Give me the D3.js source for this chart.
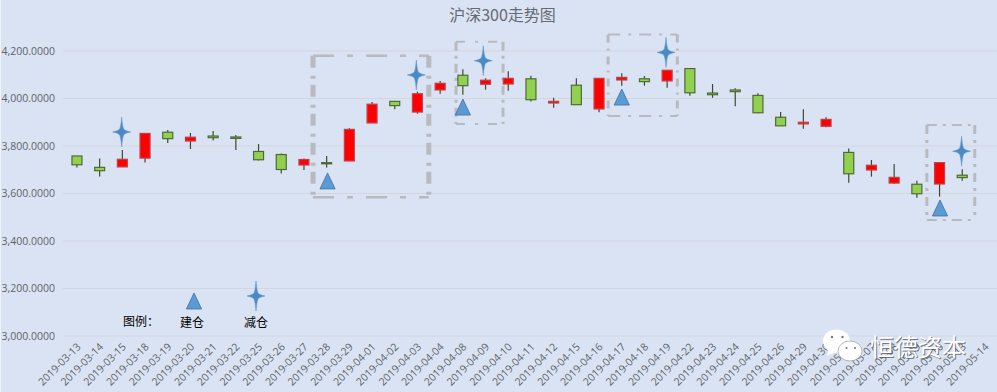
<!DOCTYPE html>
<html>
<head>
<meta charset="utf-8">
<script src="https://cdn.jsdelivr.net/npm/d3@7"></script>
<style>
  html, body { margin: 0; padding: 0; background: #dae3f3; overflow: hidden; }
  text { font-family: "Noto Sans CJK SC", "Noto Sans", sans-serif; }
</style>
</head>
<body>
<div id="vis"></div>
<script>
const categories = [
  "2019-03-13","2019-03-14","2019-03-15","2019-03-18","2019-03-19","2019-03-20","2019-03-21","2019-03-22",
  "2019-03-25","2019-03-26","2019-03-27","2019-03-28","2019-03-29","2019-04-01","2019-04-02","2019-04-03",
  "2019-04-04","2019-04-08","2019-04-09","2019-04-10","2019-04-11","2019-04-12","2019-04-15","2019-04-16",
  "2019-04-17","2019-04-18","2019-04-19","2019-04-22","2019-04-23","2019-04-24","2019-04-25","2019-04-26",
  "2019-04-29","2019-04-30","2019-05-06","2019-05-07","2019-05-08","2019-05-09","2019-05-10","2019-05-13",
  "2019-05-14"
];
// the last date has a label but no candle
const open = [3758,3710,3712,3749,3858,3821,3842,3838,3777,3764,3720,3730,3737,3897,3988,3943,4036,4098,4060,4061,4083,3981,4056,3956,4078,4083,4074,4126,4023,4036,4013,3921,3893,3883,3773,3699,3644,3639,3640,3677];
const close = [3721,3696,3744,3853,3831,3837,3835,3832,3742,3701,3743,3725,3870,3976,3970,4020,4064,4054,4077,4085,3995,3988,3974,4085,4089,4071,4119,4024,4016,4029,3940,3885,3900,3912,3683,3719,3668,3599,3730,3667];
const high = [3758,3747,3783,3853,3867,3855,3863,3846,3808,3768,3747,3758,3875,3985,3989,4029,4074,4123,4085,4115,4096,4003,4085,4085,4106,4095,4119,4126,4061,4043,4022,3943,3955,3921,3790,3741,3724,3654,3730,3702];
const low = [3710,3672,3712,3731,3813,3787,3823,3783,3739,3684,3699,3710,3737,3897,3955,3936,4020,4016,4037,4033,3987,3961,3974,3942,4054,4054,4045,4012,4003,3967,3938,3885,3873,3879,3645,3671,3641,3582,3587,3654];

const yTicks = [3000,3200,3400,3600,3800,4000,4200];

// markers were placed by hand on the original, so position is a category index
const buyPos = [11.04,17,24,38.02];
const buyValues = [3653,3964,4006,3539];
const sellPos = [1.97,14.95,17.9,25.95,38.97];
const sellValues = [3859,4099,4159,4194,3778];

// highlight boxes: position in category index, then value range
const boxFrom = [10.4,16.7,23.4,37.44];
const boxTo = [15.5,18.77,26.45,39.55];
const boxTop = [4180,4239,4269,3888];
const boxBottom = [3584,3893,3926,3488];
const boxDashH = ["21 13 6 13","9 10 3 10","12 8 3 8","10 6 3 6"];
const boxDashV = ["12 8 3 6","9 5 3 5","8 6 2 6","9 6 3 6"];
const boxWidthH = [2.5,2,2,2];
const boxWidthV = [5,3,3,3];

const width = 997;
const height = 392;

const svg = d3.select("#vis")
  .append("svg")
  .attr("width", width)
  .attr("height", height)
  .style("display", "block");

const x = d3.scaleBand()
  .domain(categories)
  .range([65.6, 996.3])
  .paddingInner(0.56)
  .paddingOuter(0.28);

const y = d3.scaleLinear()
  .domain([3000, 4200])
  .range([336, 51]);

const cx = d => x(d) + x.bandwidth() / 2;
const idx = i => x(categories[0]) + x.bandwidth() / 2 + i * x.step();

// pale strip down the left edge
svg.append("rect")
  .attr("width", 1)
  .attr("height", height)
  .attr("fill", "#eef2f9");

// grid
svg.append("g")
  .selectAll("line")
  .data(yTicks)
  .enter()
  .append("line")
  .attr("x1", 63)
  .attr("x2", 997)
  .attr("y1", d => y(d))
  .attr("y2", d => y(d))
  .attr("stroke", "#d3d6dd")
  .attr("stroke-width", 1);

// y axis labels
const yAxis = svg.append("g")
  .attr("transform", "translate(55,0)")
  .call(d3.axisLeft(y).tickValues(yTicks).tickSize(0).tickPadding(0).tickFormat(d3.format(",.4f")));
yAxis.select(".domain").remove();
yAxis.selectAll("text")
  .attr("fill", "#5f6368")
  .style("font-family", "'Open Sans', sans-serif")
  .style("font-size", "10.5px");

// x axis labels
const xAxis = svg.append("g")
  .attr("transform", "translate(0,340)")
  .call(d3.axisBottom(x).tickSize(0).tickPadding(0));
xAxis.select(".domain").remove();
xAxis.selectAll("text")
  .attr("fill", "#5f6368")
  .attr("text-anchor", "end")
  .attr("transform", "translate(0,3) rotate(-45)")
  .attr("dy", "0.6em")
  .style("font-family", "'Open Sans', sans-serif")
  .style("font-size", "10.5px");

// highlight boxes, sides drawn apart because the dashes differ
const boxes = svg.append("g")
  .attr("fill", "none")
  .attr("stroke", "#b8bac0");
boxFrom.forEach((from, i) => {
  const x0 = idx(from), x1 = idx(boxTo[i]);
  const y0 = y(boxTop[i]), y1 = y(boxBottom[i]);
  [y0, y1].forEach(py => {
    boxes.append("line")
      .attr("x1", x0).attr("x2", x1)
      .attr("y1", py).attr("y2", py)
      .attr("stroke-width", boxWidthH[i])
      .attr("stroke-dasharray", boxDashH[i]);
  });
  [x0, x1].forEach(px => {
    boxes.append("line")
      .attr("x1", px).attr("x2", px)
      .attr("y1", y0).attr("y2", y1)
      .attr("stroke-width", boxWidthV[i])
      .attr("stroke-dasharray", boxDashV[i]);
  });
});

// candles
const candles = svg.append("g")
  .selectAll("g")
  .data(open)
  .enter()
  .append("g");

candles.append("line")
  .attr("x1", (d, i) => cx(categories[i]))
  .attr("x2", (d, i) => cx(categories[i]))
  .attr("y1", (d, i) => y(high[i]))
  .attr("y2", (d, i) => y(low[i]))
  .attr("stroke", "#3c4a30")
  .attr("stroke-width", 1.2);

candles.append("rect")
  .attr("x", (d, i) => x(categories[i]))
  .attr("width", x.bandwidth())
  .attr("y", (d, i) => y(Math.max(d, close[i])))
  .attr("height", (d, i) => Math.abs(y(d) - y(close[i])))
  .attr("fill", (d, i) => close[i] >= d ? "#ff0000" : "#92d050")
  .attr("stroke", (d, i) => close[i] >= d ? "#c0404a" : "#4f6b35")
  .attr("stroke-width", 1.2);

// markers
const triangle = {
  draw(ctx) {
    ctx.moveTo(0, -8);
    ctx.lineTo(7.6, 8);
    ctx.lineTo(-7.6, 8);
    ctx.closePath();
  }
};
const star = {
  draw(ctx) {
    ctx.moveTo(0, -15);
    ctx.quadraticCurveTo(0.9, -4, 2.4, -2.4);
    ctx.quadraticCurveTo(4, -0.9, 9, 0);
    ctx.quadraticCurveTo(4, 0.9, 2.4, 2.4);
    ctx.quadraticCurveTo(0.9, 4, 0, 15);
    ctx.quadraticCurveTo(-0.9, 4, -2.4, 2.4);
    ctx.quadraticCurveTo(-4, 0.9, -9, 0);
    ctx.quadraticCurveTo(-4, -0.9, -2.4, -2.4);
    ctx.quadraticCurveTo(-0.9, -4, 0, -15);
    ctx.closePath();
  }
};

function addTriangle(g, px, py) {
  g.append("path")
    .attr("d", d3.symbol(triangle)())
    .attr("transform", `translate(${px},${py})`)
    .attr("fill", "#5b9bd5")
    .attr("stroke", "#41719c")
    .attr("stroke-width", 0.8);
}
function addStar(g, px, py) {
  g.append("path")
    .attr("d", d3.symbol(star)())
    .attr("transform", `translate(${px},${py})`)
    .attr("fill", "#4a8ac4")
    .attr("stroke", "#6a9ccc")
    .attr("stroke-width", 0.6);
}

const marks = svg.append("g");
buyPos.forEach((d, i) => addTriangle(marks, idx(d), y(buyValues[i])));
sellPos.forEach((d, i) => addStar(marks, idx(d), y(sellValues[i])));

// legend
addTriangle(marks, 194, 301);
addStar(marks, 256, 296);
const legendLabels = ["图例：", "建仓", "减仓"];
const legendX = [123, 180, 244];
const legendY = [325.5, 327, 327];
svg.append("g")
  .selectAll("text")
  .data(legendLabels)
  .enter()
  .append("text")
  .attr("x", (d, i) => legendX[i])
  .attr("y", (d, i) => legendY[i])
  .attr("fill", "#000")
  .style("font-size", "12px")
  .text(d => d);

// title
svg.append("text")
  .attr("x", 502.5)
  .attr("y", 21)
  .attr("text-anchor", "middle")
  .attr("fill", "#666b73")
  .style("font-size", "16px")
  .text("沪深300走势图");

// watermark
const wm = svg.append("g");
wm.append("ellipse").attr("cx", 836.5).attr("cy", 341).attr("rx", 13.5).attr("ry", 11.5).attr("fill", "#fff");
wm.append("path").attr("d", "M829 349 L827 356 L837 351 Z").attr("fill", "#fff");
wm.append("circle").attr("cx", 832).attr("cy", 337).attr("r", 1.2).attr("fill", "#777");
wm.append("circle").attr("cx", 842.5).attr("cy", 337).attr("r", 1.2).attr("fill", "#777");
wm.append("ellipse").attr("cx", 850).attr("cy", 351).attr("rx", 12).attr("ry", 10).attr("fill", "#fff").attr("stroke", "#9a9a9a").attr("stroke-width", 0.7);
wm.append("circle").attr("cx", 846.5).attr("cy", 348).attr("r", 1.1).attr("fill", "#777");
wm.append("circle").attr("cx", 855).attr("cy", 348).attr("r", 1.1).attr("fill", "#777");
wm.append("text")
  .attr("x", 871)
  .attr("y", 357)
  .attr("fill", "#555")
  .attr("opacity", 0.75)
  .style("font-size", "24px")
  .text("恒德资本");
wm.append("text")
  .attr("x", 870)
  .attr("y", 356)
  .attr("fill", "#fff")
  .style("font-size", "24px")
  .text("恒德资本");
</script>
</body>
</html>
